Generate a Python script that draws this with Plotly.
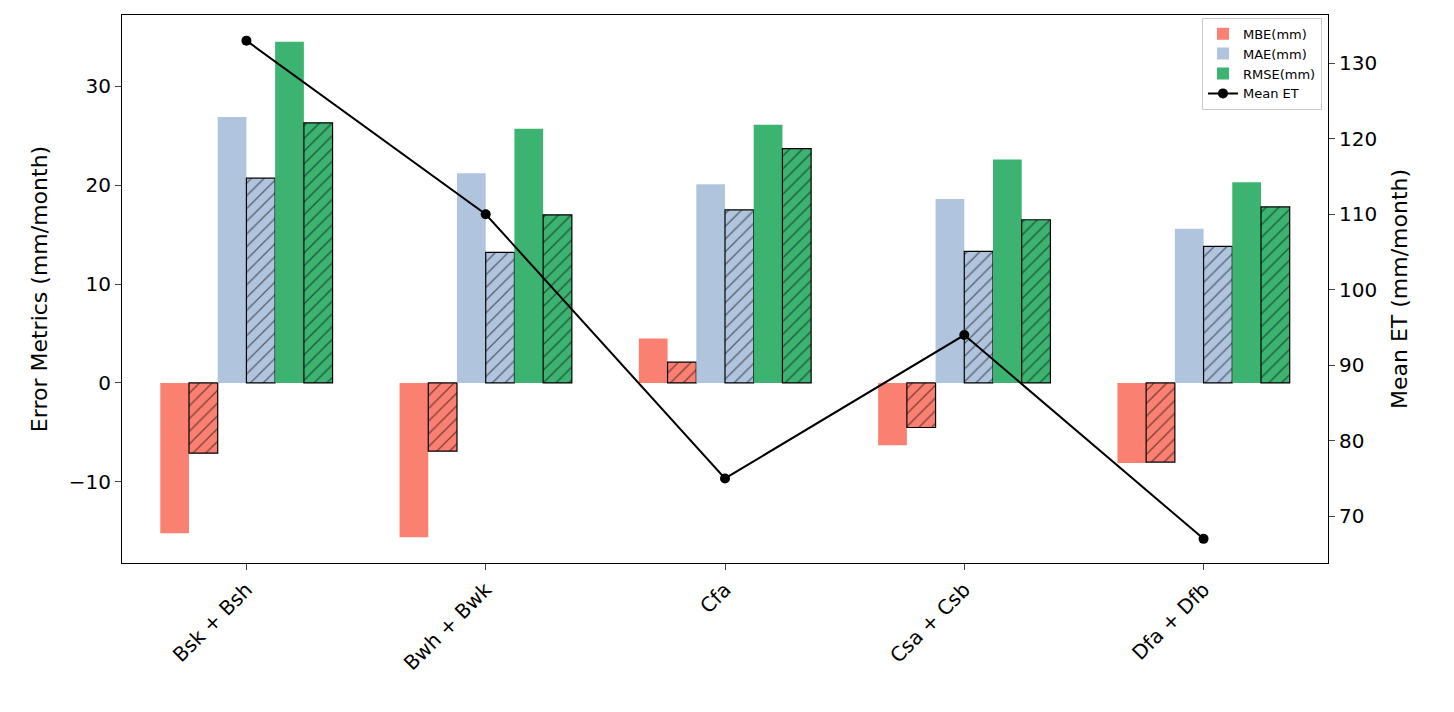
import plotly.graph_objects as go

regions = ['Bsk + Bsh', 'Bwh + Bwk', 'Cfa', 'Csa + Csb', 'Dfa + Dfb']
mbe = [-15.2, -15.6, 4.5, -6.3, -8.1]
mbe_h = [-7.1, -6.9, 2.1, -4.5, -8.0]
mae = [26.9, 21.2, 20.1, 18.6, 15.6]
mae_h = [20.7, 13.2, 17.5, 13.3, 13.8]
rmse = [34.5, 25.7, 26.1, 22.6, 20.3]
rmse_h = [26.3, 17.0, 23.7, 16.5, 17.8]
mean_et = [133, 110, 75, 94, 67]

w = 0.12
fig = go.Figure()
series = [
    (mbe, '#FA8072', 'MBE(mm)', False),
    (mbe_h, '#FA8072', None, True),
    (mae, '#B0C4DE', 'MAE(mm)', False),
    (mae_h, '#B0C4DE', None, True),
    (rmse, '#3CB371', 'RMSE(mm)', False),
    (rmse_h, '#3CB371', None, True),
]
for k, (vals, col, name, hatch) in enumerate(series):
    marker = dict(color=col)
    if hatch:
        marker['pattern'] = dict(shape='/', fgcolor='black', size=9, solidity=0.15)
        marker['line'] = dict(color='black', width=1.2)
    else:
        marker['line'] = dict(width=0)
    fig.add_trace(go.Bar(x=regions, y=vals, width=w, offset=-3 * w + k * w,
                         marker=marker, name=name or '', showlegend=not hatch))

fig.add_trace(go.Scatter(x=regions, y=mean_et, yaxis='y2', name='Mean ET',
                         mode='lines+markers', line=dict(color='black', width=2),
                         marker=dict(color='black', size=10)))

fig.update_layout(
    barmode='overlay', width=1454, height=712, plot_bgcolor='white',
    paper_bgcolor='white', font=dict(family='DejaVu Sans', size=20, color='black'),
    margin=dict(l=114, r=134, t=7, b=157),
    xaxis=dict(tickangle=-45, showline=True, linecolor='black', mirror=True,
               ticks='outside', ticklen=6, range=[-0.52, 4.52]),
    yaxis=dict(title=dict(text='Error Metrics (mm/month)', font=dict(size=22)),
               range=[-18.2, 37.2], showgrid=False, zeroline=False, showline=True,
               linecolor='black', ticks='outside', ticklen=6, tickvals=[-10, 0, 10, 20, 30]),
    yaxis2=dict(title=dict(text='Mean ET (mm/month)', font=dict(size=22)),
                overlaying='y', side='right', range=[63.8, 136.4], showgrid=False,
                zeroline=False, showline=True, linecolor='black', ticks='outside', ticklen=6),
    legend=dict(x=0.995, y=0.995, xanchor='right', yanchor='top', bordercolor='#cccccc',
                borderwidth=1, font=dict(size=13), bgcolor='white'),
)
fig.write_html('out.html')
